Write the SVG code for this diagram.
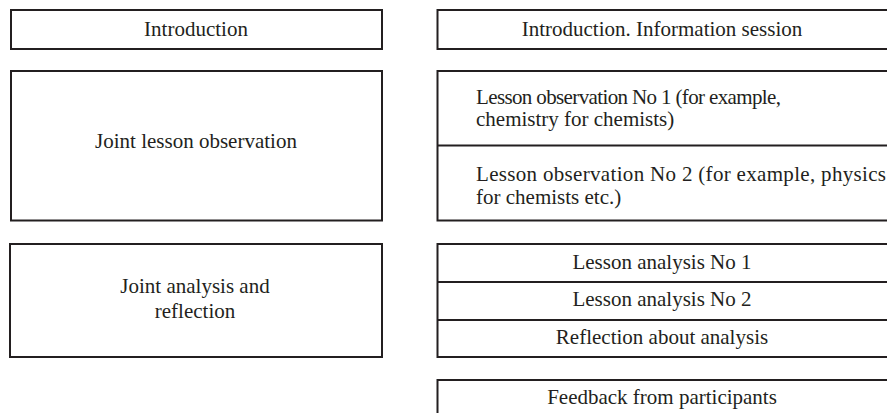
<svg xmlns="http://www.w3.org/2000/svg" width="887" height="413" viewBox="0 0 887 413">
  <style>
    .box { fill: #ffffff; stroke: #231f20; stroke-width: 2; }
    .sep { stroke: #231f20; stroke-width: 2; }
    text { font-family: "Liberation Serif", "Times New Roman", serif; font-size: 21px; fill: #231f20; }
    .c { text-anchor: middle; }
  </style>
  <rect width="887" height="413" fill="#ffffff"/>

  <!-- Left column: stages -->
  <g id="stage-introduction">
    <rect class="box" x="11" y="10" width="371" height="39"/>
    <text class="c" x="196" y="36">Introduction</text>
  </g>
  <g id="stage-joint-observation">
    <rect class="box" x="11" y="71" width="371" height="149.5"/>
    <text class="c" x="196" y="148">Joint lesson observation</text>
  </g>
  <g id="stage-joint-analysis">
    <rect class="box" x="10" y="244" width="372" height="113"/>
    <text class="c" x="195" y="293">Joint analysis and</text>
    <text class="c" x="195" y="318">reflection</text>
  </g>

  <!-- Right column: activities (boxes run to the right edge) -->
  <g id="activity-introduction">
    <rect class="box" x="437.5" y="10" width="460" height="39"/>
    <text class="c" x="662" y="36">Introduction. Information session</text>
  </g>
  <g id="activity-observations">
    <rect class="box" x="437.5" y="71" width="460" height="149.5"/>
    <line class="sep" x1="437.5" y1="145.5" x2="897" y2="145.5"/>
    <text x="476" y="104" textLength="305" lengthAdjust="spacing">Lesson observation No 1 (for example,</text>
    <text x="476" y="126">chemistry for chemists)</text>
    <text x="476" y="181" textLength="410" lengthAdjust="spacing">Lesson observation No 2 (for example, physics</text>
    <text x="476" y="204">for chemists etc.)</text>
  </g>
  <g id="activity-analysis">
    <rect class="box" x="437.5" y="244" width="460" height="113"/>
    <line class="sep" x1="437.5" y1="282" x2="897" y2="282"/>
    <line class="sep" x1="437.5" y1="320" x2="897" y2="320"/>
    <text class="c" x="662" y="269">Lesson analysis No 1</text>
    <text class="c" x="662" y="306">Lesson analysis No 2</text>
    <text class="c" x="662" y="344">Reflection about analysis</text>
  </g>
  <g id="activity-feedback">
    <rect class="box" x="437.5" y="380" width="460" height="60"/>
    <text class="c" x="662" y="404">Feedback from participants</text>
  </g>

  <g id="connectors"></g>
</svg>
